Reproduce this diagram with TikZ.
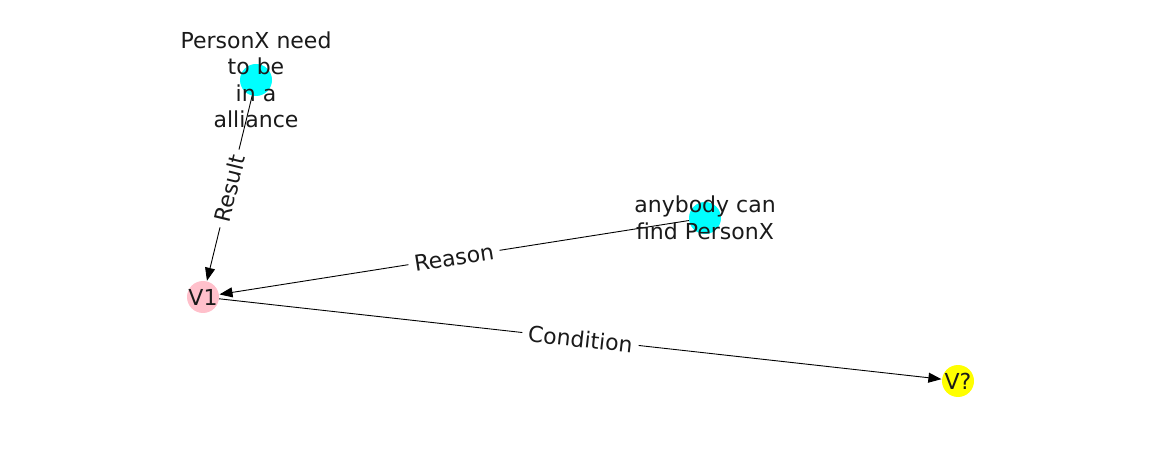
\documentclass[tikz,border=0pt]{standalone}
\usepackage{fontspec}
\setmainfont{DejaVu Sans}
\usetikzlibrary{arrows.meta}
\definecolor{ncyan}{HTML}{00FFFF}
\definecolor{npink}{HTML}{FFC0CB}
\definecolor{nyellow}{HTML}{FFFF00}
\definecolor{txt}{HTML}{1A1A1A}
\tikzset{
  dot/.style={circle, minimum size=32pt, inner sep=0pt, draw=none},
  lbl/.style={align=center, inner sep=0pt, text=txt, font=\fontsize{22}{26.5}\selectfont},
  edge/.style={line width=0.9pt, -{Triangle[length=13pt,width=10pt]}, shorten >=0.5pt},
  elbl/.style={fill=white, inner xsep=6pt, inner ysep=3pt, text=txt, font=\fontsize{22}{26.5}\selectfont, sloped}
}
\begin{document}
\begin{tikzpicture}[x=1pt,y=-1pt]
\useasboundingbox (0,0) rectangle (1162,462);
\node[dot, fill=ncyan] (a) at (256,80) {};
\node[dot, fill=ncyan] (b) at (705,218) {};
\node[dot, fill=npink] (v1) at (203,297) {};
\node[dot, fill=nyellow] (vq) at (958,381) {};
\draw[edge] (a) -- node[elbl, pos=0.5] {Result} (v1);
\draw[edge] (b) -- node[elbl, pos=0.5] {Reason} (v1);
\draw[edge] (v1) -- node[elbl, pos=0.5] {Condition} (vq);
\node[lbl] (ta) at (256,80) {PersonX need\\to be\\in a\\alliance};
\node[lbl] (tb) at (705,218) {anybody can\\find PersonX};
\node[lbl] (tv1) at (203,297) {V1};
\node[lbl] (tvq) at (958,381) {V?};
\end{tikzpicture}
\end{document}
